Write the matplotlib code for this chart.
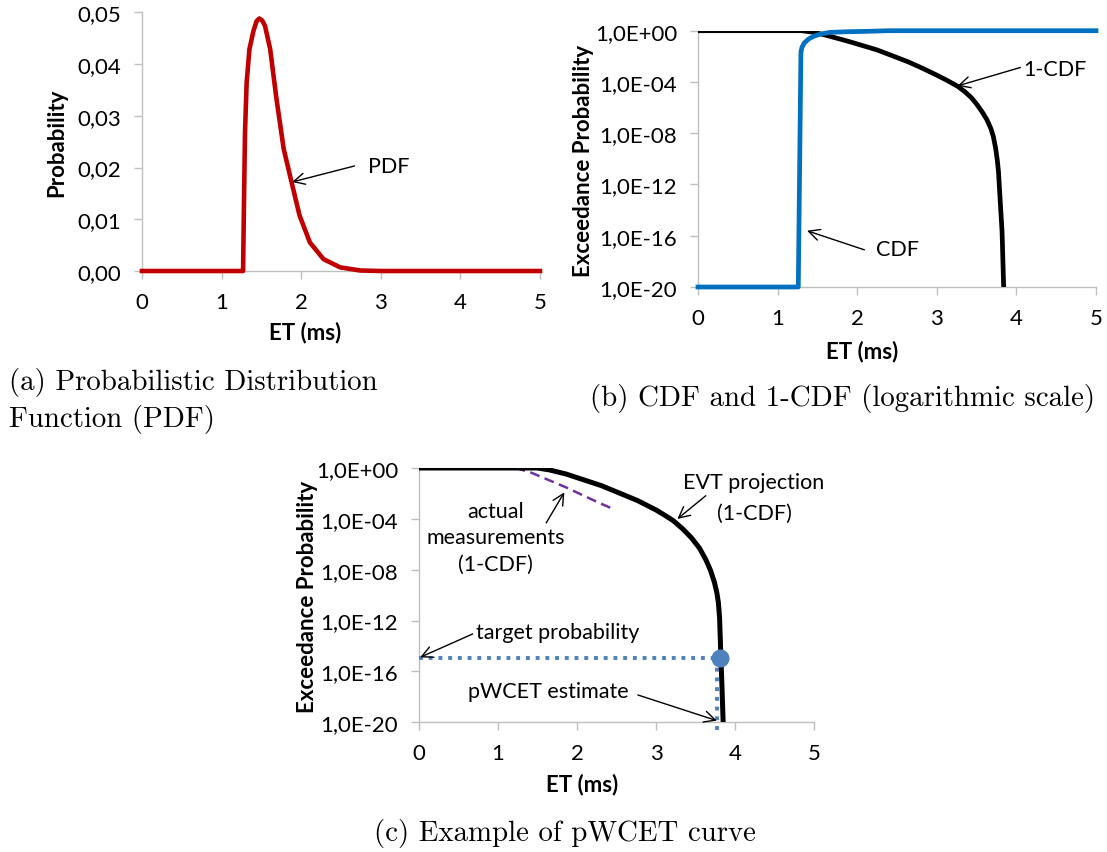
import numpy as np
import matplotlib
matplotlib.use("Agg")
import matplotlib.pyplot as plt
from matplotlib.ticker import FixedLocator, FuncFormatter

plt.rcParams['font.family'] = ['Lato', 'DejaVu Sans']

W, H = 1107, 853

# (a) probability distribution
pdf_et = [0.0, 1.27, 1.28, 1.294, 1.315, 1.35, 1.40, 1.44, 1.474, 1.51, 1.545, 1.61, 1.69,
          1.78, 1.88, 1.98, 2.11, 2.28, 2.49, 2.74, 3.0, 5.0]
pdf_prob = [0.0, 0.0, 0.012, 0.0268, 0.0365, 0.0429, 0.0464, 0.0483, 0.0488, 0.0484, 0.0474,
            0.0429, 0.0332, 0.0236, 0.0171, 0.0107, 0.0055, 0.0023, 0.0007, 0.0001, 0.0, 0.0]

# (b) CDF and 1-CDF, stored as exponents of ten
cdf_et = [0.0, 1.26, 1.293, 1.306, 1.335, 1.389, 1.452, 1.537, 1.663, 1.873, 2.125, 2.4, 5.0]
cdf_exp = [-20, -20, -1.69, -1.30, -0.96, -0.65, -0.44, -0.26, -0.13, -0.08, -0.05, 0, 0]
ccdf_et = [0.0, 1.30, 1.45, 1.60, 1.90, 2.25, 2.64, 2.82, 3.00, 3.13, 3.26, 3.35, 3.43,
           3.50, 3.57, 3.63, 3.68, 3.71, 3.74, 3.76, 3.775, 3.79, 3.82, 3.84]
ccdf_exp = [0, 0, -0.12, -0.34, -0.85, -1.5, -2.43, -2.93, -3.47, -3.88, -4.33, -4.75, -5.2,
            -5.72, -6.34, -6.95, -7.65, -8.25, -9.2, -10.1, -11.0, -12.6, -15.7, -20]

# (c) pWCET example
evt_et = [0.0, 1.50, 1.65, 1.86, 2.31, 2.77, 3.00, 3.12, 3.22, 3.34, 3.45, 3.55, 3.63, 3.69,
          3.74, 3.77, 3.79, 3.805, 3.82, 3.835, 3.85]
evt_exp = [0, 0, -0.15, -0.47, -1.39, -2.57, -3.3, -3.75, -4.15, -4.8, -5.5, -6.3, -7.2,
           -8.05, -9.0, -9.8, -10.6, -11.8, -14.6, -17.2, -20]
meas_et = [1.22, 1.41, 1.86, 2.22, 2.43]
meas_exp = [0, -0.34, -1.52, -2.57, -3.15]
target_exp = -14.94
pwcet_et = 3.77
point_et = 3.81

log_ticks = [0, -4, -8, -12, -16, -20]


def add_axes_px(fig, left, top, right, bottom):
    return fig.add_axes([left / W, 1 - bottom / H, (right - left) / W, (bottom - top) / H])


def excel_style(ax):
    for side in ['top', 'right']:
        ax.spines[side].set_visible(False)
    for side in ['left', 'bottom']:
        ax.spines[side].set_color('#bfbfbf')
        ax.spines[side].set_linewidth(1.0)
    ax.tick_params(axis='both', which='major', direction='out', length=6, width=1.0,
                   color='#bfbfbf', labelsize=16, labelcolor='black')
    ax.tick_params(axis='x', pad=9)
    ax.tick_params(axis='y', pad=9)
    ax.tick_params(which='minor', length=0, labelleft=False)
    ax.set_xlim(0, 5)
    ax.set_xticks(range(6))


def log_axis(ax):
    ax.set_yscale('log')
    ax.set_ylim(1e-20, 1)
    ax.yaxis.set_major_locator(FixedLocator([10.0 ** e for e in log_ticks]))
    ax.yaxis.set_minor_locator(FixedLocator([]))
    fmt = lambda v, pos: "1,0E%s%02d" % ('+' if np.log10(v) >= 0 else '-', abs(int(round(np.log10(v)))))
    ax.yaxis.set_major_formatter(FuncFormatter(fmt))


def arrow(ax, tip, tail):
    ax.annotate('', xy=tip, xytext=tail,
                arrowprops=dict(arrowstyle='->', color='black', lw=1.0,
                                shrinkA=0, shrinkB=0, mutation_scale=20))


def px_text(fig, x, y, s, **kw):
    fig.text(x / W, 1 - y / H, s, ha='center', va='center', **kw)


fig = plt.figure(figsize=(W / 100, H / 100), dpi=100)
caption_font = dict(family='cmr10', fontsize=20.8)
label_font = dict(fontsize=16, fontweight='bold')
note_size = 15.5

# (a) PDF
ax = add_axes_px(fig, 142, 13.3, 540, 272)
excel_style(ax)
ax.plot(pdf_et, pdf_prob, color='#c00000', lw=3.3, clip_on=False, solid_joinstyle='round',
        zorder=3)
ax.set_ylim(0, 0.05)
ax.set_yticks(np.arange(0, 0.051, 0.01))
ax.yaxis.set_major_formatter(FuncFormatter(lambda v, pos: ("%.2f" % v).replace('.', ',')))
arrow(ax, (1.885, 0.0172), (2.67, 0.0203))
ax.text(2.84, 0.0203, "PDF", fontsize=note_size, va='center', ha='left')
px_text(fig, 57, 143, "Probability", rotation=90, **label_font)
px_text(fig, 305, 333, "ET (ms)", **label_font)
fig.text(9 / W, 1 - 390 / H, "(a) Probabilistic Distribution", ha='left', va='baseline', **caption_font)
fig.text(9 / W, 1 - 427 / H, "Function (PDF)", ha='left', va='baseline', **caption_font)

# (b) CDF and 1-CDF
ax = add_axes_px(fig, 698, 31.7, 1096, 288)
excel_style(ax)
log_axis(ax)
ax.plot(ccdf_et, 10.0 ** np.array(ccdf_exp), color='black', lw=3.4, solid_joinstyle='round',
        zorder=3)
ax.plot(cdf_et, 10.0 ** np.array(cdf_exp), color='#0070c0', lw=3.4, clip_on=False,
        solid_joinstyle='round', zorder=3)
arrow(ax, (3.26, 10 ** -4.31), (4.05, 10 ** -2.87))
ax.text(4.09, 10 ** -2.95, "1-CDF", fontsize=note_size, va='center', ha='left')
arrow(ax, (1.37, 10 ** -15.61), (2.09, 10 ** -17.10))
ax.text(2.23, 10 ** -17.05, "CDF", fontsize=note_size, va='center', ha='left')
px_text(fig, 583, 161, "Exceedance Probability", rotation=90, **label_font)
px_text(fig, 862, 352, "ET (ms)", **label_font)
px_text(fig, 842, 399, "(b) CDF and 1-CDF (logarithmic scale)", **caption_font)

# (c) pWCET curve
ax = add_axes_px(fig, 419, 469, 814, 723.3)
excel_style(ax)
log_axis(ax)
ax.plot([0, point_et], [10 ** target_exp] * 2, color='#4f81bd', lw=2.8, ls=(0, (1, 1.5)),
        dash_capstyle='butt', clip_on=False, zorder=3)
ax.plot([pwcet_et, pwcet_et], [10 ** target_exp, 10 ** -20.9], color='#4f81bd', lw=2.8,
        ls=(0, (1, 1.5)), dash_capstyle='butt', clip_on=False, zorder=3)
ax.plot(meas_et, 10.0 ** np.array(meas_exp), color='#7030a0', lw=1.8, dashes=(4, 2.2),
        zorder=3)
ax.plot(evt_et, 10.0 ** np.array(evt_exp), color='black', lw=3.6, solid_joinstyle='round',
        zorder=3)
ax.plot([point_et], [10 ** target_exp], 'o', color='#4f81bd', ms=12, clip_on=False, zorder=5)
ax.text(4.24, 10 ** -1.13, "EVT projection", fontsize=note_size, va='center', ha='center')
ax.text(4.24, 10 ** -3.49, "(1-CDF)", fontsize=note_size, va='center', ha='center')
arrow(ax, (3.27, 10 ** -4.01), (3.63, 10 ** -2.18))
ax.text(0.97, 10 ** -5.45, "actual\nmeasurements\n(1-CDF)", fontsize=note_size, va='center',
        ha='center', linespacing=1.4)
arrow(ax, (1.84, 10 ** -1.91), (1.61, 10 ** -4.32))
ax.text(0.725, 10 ** -12.87, "target probability", fontsize=note_size, va='center', ha='left')
arrow(ax, (0.014, 10 ** -14.89), (0.68, 10 ** -13.05))
ax.text(0.62, 10 ** -17.51, "pWCET estimate", fontsize=note_size, va='center', ha='left')
arrow(ax, (3.77, 10 ** -19.87), (2.77, 10 ** -17.85))
px_text(fig, 307, 597, "Exceedance Probability", rotation=90, **label_font)
px_text(fig, 582, 785, "ET (ms)", **label_font)
px_text(fig, 565, 834, "(c) Example of pWCET curve", **caption_font)

fig.savefig("out.png", dpi=100)
